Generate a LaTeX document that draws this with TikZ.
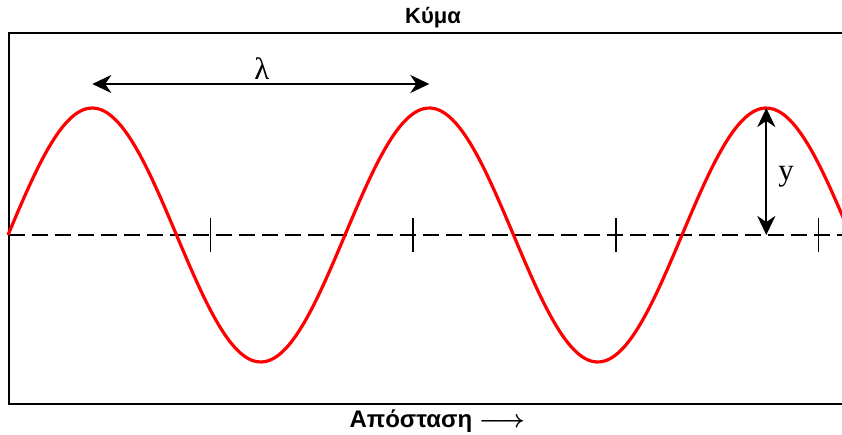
\documentclass[tikz,border=0pt]{standalone}
\usepackage{fontspec}
\setmainfont{Liberation Serif}
\newfontfamily\labelfont{Liberation Sans}
\usetikzlibrary{arrows.meta}
\tikzset{
  axislabel/.style={font=\labelfont\bfseries\fontsize{22}{22}\selectfont},
  wavelabel/.style={font=\fontsize{31}{31}\selectfont},
  measure/.style={line width=2pt,{Stealth[length=19pt,width=18pt,inset=6pt]}-{Stealth[length=19pt,width=18pt,inset=6pt]}}
}
\begin{document}
\begin{tikzpicture}[x=1pt,y=-1pt]
\useasboundingbox (0,0) rectangle (842,435);
\begin{scope}
\clip (0,0) rectangle (842,435);
\draw[line width=2pt] (8.5,33) rectangle (860,404);
\draw[line width=1.8pt,dash pattern=on 16pt off 7pt] (8.5,235) -- (842,235);
\foreach \i in {1,...,4} \draw[line width=1.6pt] (8+202.6*\i,218) -- (8+202.6*\i,252);
\draw[red,line width=3.2pt,domain=8:850,samples=200,smooth] plot (\x,{235-127*sin((\x-8)/337*360)});
\end{scope}
\coordinate (peakA) at (92.3,108);
\coordinate (peakB) at (429.3,108);
\coordinate (peakC) at (766.3,108);
\coordinate (base) at (766.3,235);
\draw[measure] (peakA|-0,84) coordinate (lamL) -- (peakB|-0,84) coordinate (lamR);
\draw[measure] (peakC) -- (base);
\node[wavelabel] (lam) at (262,69) {λ};
\node[wavelabel] (amp) at (786,177) {y};
\node[axislabel] (title) at (433,18) {Κύμα};
\node[axislabel,anchor=west,font=\labelfont\bfseries\fontsize{24}{24}\selectfont] (dist) at (346,421) {Απόσταση {\boldmath$\longrightarrow$}};
\end{tikzpicture}
\end{document}
